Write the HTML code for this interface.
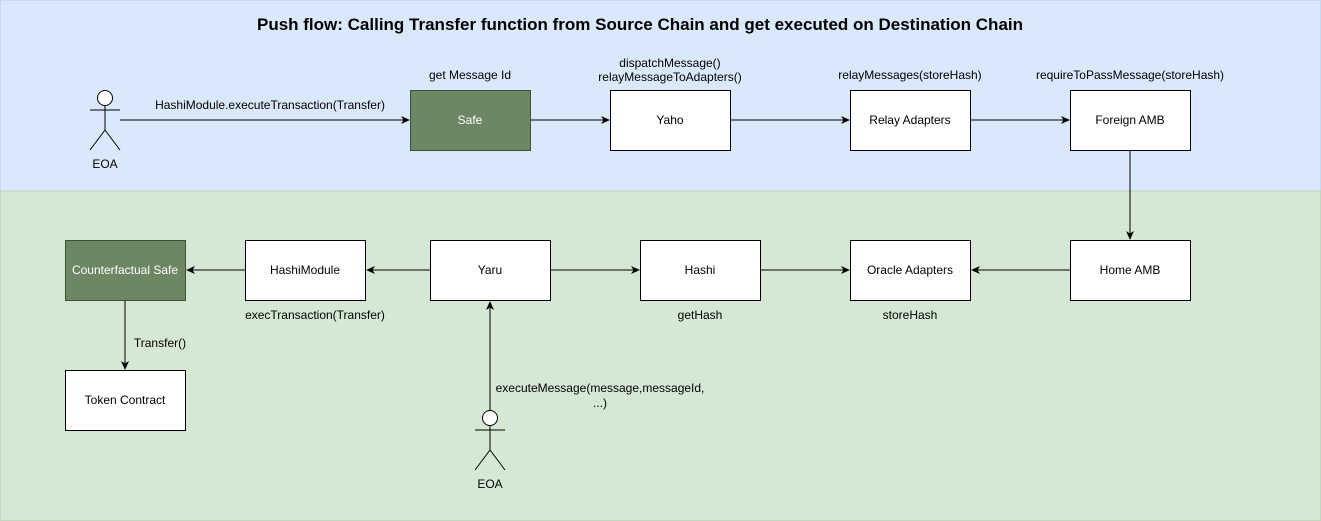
<!DOCTYPE html>
<html><head><meta charset="utf-8"><style>body{margin:0}svg{display:block}</style></head><body>
<svg width="1321" height="521" xmlns="http://www.w3.org/2000/svg" font-family="Liberation Sans, sans-serif" font-size="12">
<defs><marker id="a" markerWidth="10" markerHeight="10" refX="8" refY="5" orient="auto" markerUnits="userSpaceOnUse"><path d="M0,1 L9,5 L0,9 L2.5,5 Z" fill="#000"/></marker></defs>
<rect x="0.5" y="0.5" width="1320" height="190.5" fill="#dae8fc" stroke="#c8d8ee"/>
<rect x="0.5" y="191" width="1320" height="329.5" fill="#d5e8d4" stroke="#c0d6bf"/>
<text x="640" y="30" text-anchor="middle" font-size="17" font-weight="bold">Push flow: Calling Transfer function from Source Chain and get executed on Destination Chain</text>
<g stroke="#000" fill="none" stroke-width="1">
<circle cx="105" cy="98" r="7.5" fill="#fff"/><path d="M105,105.5V130M90,110H120M105,130L90,150M105,130L120,150"/>
<circle cx="490" cy="418" r="7.5" fill="#fff"/><path d="M490,425.5V450M475,430H505M490,450L475,470M490,450L505,470"/>
<path d="M120,120H409" marker-end="url(#a)"/>
<path d="M530,120H609" marker-end="url(#a)"/>
<path d="M730,120H849" marker-end="url(#a)"/>
<path d="M970,120H1069" marker-end="url(#a)"/>
<path d="M1130,150V239" marker-end="url(#a)"/>
<path d="M1070,270H972" marker-end="url(#a)"/>
<path d="M760,270H849" marker-end="url(#a)"/>
<path d="M550,270H639" marker-end="url(#a)"/>
<path d="M430,270H367" marker-end="url(#a)"/>
<path d="M245,270H187" marker-end="url(#a)"/>
<path d="M125,300V369" marker-end="url(#a)"/>
<path d="M490,410V302" marker-end="url(#a)"/>
</g>
<g stroke="#000">
<rect x="410.5" y="90.5" width="120" height="60" fill="#6d8764" stroke="#3a5431"/>
<rect x="610.5" y="90.5" width="120" height="60" fill="#fff"/>
<rect x="850.5" y="90.5" width="120" height="60" fill="#fff"/>
<rect x="1070.5" y="90.5" width="120" height="60" fill="#fff"/>
<rect x="65.5" y="240.5" width="120" height="60" fill="#6d8764" stroke="#3a5431"/>
<rect x="245.5" y="240.5" width="120" height="60" fill="#fff"/>
<rect x="430.5" y="240.5" width="120" height="60" fill="#fff"/>
<rect x="640.5" y="240.5" width="120" height="60" fill="#fff"/>
<rect x="850.5" y="240.5" width="120" height="60" fill="#fff"/>
<rect x="1070.5" y="240.5" width="120" height="60" fill="#fff"/>
<rect x="65.5" y="370.5" width="120" height="60" fill="#fff"/>
</g>
<g text-anchor="middle">
<text x="470" y="124" fill="#fff">Safe</text>
<text x="670" y="124">Yaho</text>
<text x="910" y="124">Relay Adapters</text>
<text x="1130" y="124">Foreign AMB</text>
<text x="125" y="274" fill="#fff">Counterfactual Safe</text>
<text x="305" y="274">HashiModule</text>
<text x="490" y="274">Yaru</text>
<text x="700" y="274">Hashi</text>
<text x="910" y="274">Oracle Adapters</text>
<text x="1130" y="274">Home AMB</text>
<text x="125" y="404">Token Contract</text>
<text x="105" y="168">EOA</text>
<text x="490" y="488">EOA</text>
<text x="270" y="109">HashiModule.executeTransaction(Transfer)</text>
<text x="470" y="79">get Message Id</text>
<text x="670" y="67">dispatchMessage()</text>
<text x="670" y="81">relayMessageToAdapters()</text>
<text x="910" y="79">relayMessages(storeHash)</text>
<text x="1130" y="79">requireToPassMessage(storeHash)</text>
<text x="315" y="319">execTransaction(Transfer)</text>
<text x="700" y="319">getHash</text>
<text x="910" y="319">storeHash</text>
<text x="160" y="347">Transfer()</text>
<text x="600" y="392">executeMessage(message,messageId,</text>
<text x="600" y="407">...)</text>
</g>
</svg>
</body></html>
